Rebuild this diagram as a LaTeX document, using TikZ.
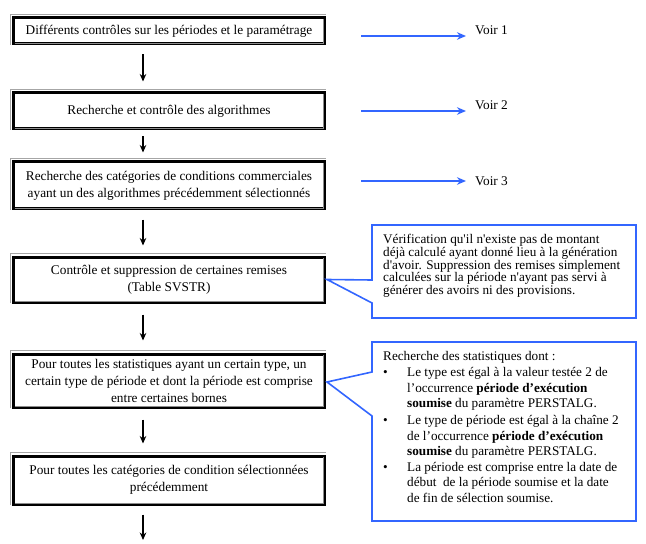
\documentclass[tikz,border=0pt]{standalone}
\usepackage{fontspec}
\setmainfont{Liberation Serif}
\usetikzlibrary{arrows.meta,calc}
\definecolor{callblue}{RGB}{51,102,255}
\begin{document}
\begin{tikzpicture}[x=1bp,y=-1bp,
  flowbox/.style={draw=black, line width=3bp, minimum width=310bp, align=center, inner sep=0pt, font=\fontsize{13.3bp}{17bp}\selectfont},
  flowarrow/.style={-{Stealth[length=7.5bp,width=6.5bp]}, line width=1.3bp, black, shorten <=9bp, shorten >=10bp},
  seearrow/.style={-{Stealth[length=9bp,width=7.5bp]}, line width=2.3bp, callblue},
  callout/.style={draw=callblue, line width=1.6bp, line join=miter},
  note/.style={anchor=north west, inner sep=0pt, align=left},
  seelabel/.style={anchor=west, inner sep=0pt, font=\fontsize{13.3bp}{15bp}\selectfont},
  shadowline/.style={draw=black!35, line width=1.2bp},
  innershade/.style={draw=black!45, line width=1bp}
]
\useasboundingbox (0,0) rectangle (646,544);

% flow boxes
\node[flowbox, minimum height=26bp] (b1) at (169,31) {Différents contrôles sur les périodes et le paramétrage};
\node[flowbox, minimum height=36bp] (b2) at (169,111) {\raisebox{3bp}{Recherche et contrôle des algorithmes}};
\node[flowbox, minimum height=47bp] (b3) at (169,185.5) {Recherche des catégories de conditions commerciales\\ayant un des algorithmes précédemment sélectionnés};
\node[flowbox, minimum height=45bp] (b4) at (169,279.5) {Contrôle et suppression de certaines remises\\(Table SVSTR)};
\node[flowbox, minimum height=53bp] (b5) at (169,380.5) {Pour toutes les statistiques ayant un certain type, un\\certain type de période et dont la période est comprise\\entre certaines bornes};
\node[flowbox, minimum height=48bp] (b6) at (169,480) {Pour toutes les catégories de condition sélectionnées\\précédemment};

\foreach \b in {b1,b2,b3,b4,b5,b6}{
  \draw[shadowline] ($(\b.south west)+(-2.1,-0.5)$) |- ($(\b.north east)+(0.5,-2.1)$);
  \draw[innershade] ($(\b.south west)+(2.2,-2)$) -| ($(\b.north east)+(-2,2.2)$);
}

% vertical flow arrows
\coordinate (ax) at (143,0);
\coordinate (endarrow) at (143,540);
\draw[flowarrow] (b1.south -| ax) -- (b2.north -| ax);
\draw[flowarrow, shorten <=6bp, shorten >=8bp] (b2.south -| ax) -- (b3.north -| ax);
\draw[flowarrow] (b3.south -| ax) -- (b4.north -| ax);
\draw[flowarrow, shorten <=11bp, shorten >=12bp] (b4.south -| ax) -- (b5.north -| ax);
\draw[flowarrow, shorten <=11bp, shorten >=11bp] (b5.south -| ax) -- (b6.north -| ax);
\draw[flowarrow, shorten >=0bp] (b6.south -| ax) -- (endarrow);

% "Voir" arrows and labels
\coordinate (s1) at (361,36);  \coordinate (e1) at (466,36);
\coordinate (s2) at (361,111); \coordinate (e2) at (466,111);
\coordinate (s3) at (361,181); \coordinate (e3) at (466,181);
\draw[seearrow] (s1) -- (e1);
\draw[seearrow] (s2) -- (e2);
\draw[seearrow] (s3) -- (e3);
\node[seelabel] (v1) at (475,30) {Voir 1};
\node[seelabel] (v2) at (475,105) {Voir 2};
\node[seelabel] (v3) at (475,181) {Voir 3};

% callout 1
\coordinate (c1nw) at (372,225);
\coordinate (c1se) at (636,318);
\draw[callout] (c1nw) -- (c1nw -| c1se) -- (c1se) -- (c1se -| c1nw) -- (372,303)
  -- ($(b4.east)+(1.5,0)$) -- (372,280) -- cycle;
\node[note, font=\fontsize{13.2bp}{12.8bp}\selectfont] (t1) at (383,234) {Vérification qu\textquotesingle il n\textquotesingle existe pas de montant\\
déjà calculé ayant donné lieu à la génération\\
d\textquotesingle avoir. Suppression des remises simplement\\
calculées sur la période n\textquotesingle ayant pas servi à\\
générer des avoirs ni des provisions.};

% callout 2
\coordinate (c2nw) at (372,342);
\coordinate (c2se) at (636,521);
\draw[callout] (c2nw) -- (c2nw -| c2se) -- (c2se) -- (c2se -| c2nw) -- (372,416)
  -- ($(b5.east)+(1.5,1.5)$) -- (372,372) -- cycle;
\node[note, font=\fontsize{13.2bp}{15.6bp}\selectfont] (t2) at (383,349) {%
\begin{tabular}{@{}p{24bp}@{}l@{}}
\multicolumn{2}{@{}l@{}}{Recherche des statistiques dont :}\\[1bp]
\textbullet & Le type est égal à la valeur testée 2 de\\
 & l’occurrence \textbf{période d’exécution}\\
 & \textbf{soumise} du paramètre PERSTALG.\\[1bp]
\textbullet & Le type de période est égal à la chaîne 2\\
 & de l’occurrence \textbf{période d’exécution}\\
 & \textbf{soumise} du paramètre PERSTALG.\\
\textbullet & La période est comprise entre la date de\\
 & début~ de la période soumise et la date\\
 & de fin de sélection soumise.
\end{tabular}};
\end{tikzpicture}
\end{document}
